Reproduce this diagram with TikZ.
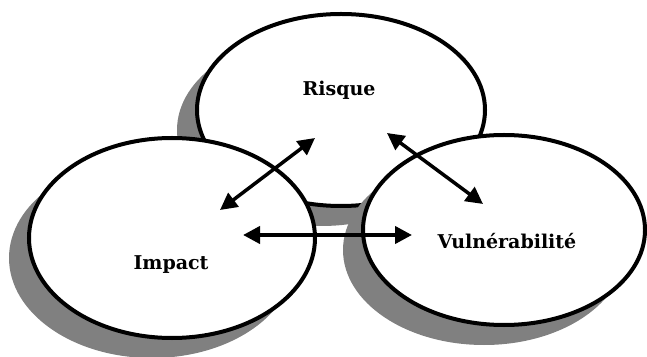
\documentclass[tikz,border=0pt]{standalone}
\usepackage{fontspec}
\setmainfont{DejaVu Serif}
\usetikzlibrary{shapes.geometric,shadows,arrows.meta}
\definecolor{shadowgray}{RGB}{128,128,128}
\begin{document}
\begin{tikzpicture}[x=1pt,y=1pt,
  bubble/.style={ellipse, draw=black, line width=4pt, fill=white, inner sep=0pt,
    drop shadow={shadow xshift=-20pt, shadow yshift=-20pt, fill=shadowgray, opacity=1}},
  lbl/.style={font=\fontsize{19}{22}\selectfont\bfseries, anchor=base, inner sep=0pt},
  tip/.style={Triangle[length=17pt,width=17pt]},
  link/.style={{Triangle[length=17pt,width=17pt]}-{Triangle[length=17pt,width=17pt]}, line width=3.5pt}]
\useasboundingbox (0,0) rectangle (647,356);

% the three overlapping ellipses, back to front
\node[bubble, minimum width=288pt, minimum height=192pt] (risque) at (341,246) {};
\node[bubble, minimum width=286pt, minimum height=200pt] (impact) at (172,118) {};
\node[bubble, minimum width=282pt, minimum height=190pt] (vuln) at (504,126) {};

% labels
\node[lbl] (trisque) at (339,260) {Risque};
\node[lbl] (timpact) at (171,86) {Impact};
\node[lbl] (tvuln) at (507,107) {Vulnérabilité};

% ends of the double arrows
\coordinate (ri) at (315,218);
\coordinate (ir) at (220,146);
\coordinate (rv) at (387,223);
\coordinate (vr) at (483,152);
\coordinate (iv) at (243,121);
\coordinate (vi) at (412,121);

\draw[link] (ir) -- (ri);
\draw[link] (rv) -- (vr);
\draw[link, line width=4pt] (iv) -- (vi);
\end{tikzpicture}
\end{document}
